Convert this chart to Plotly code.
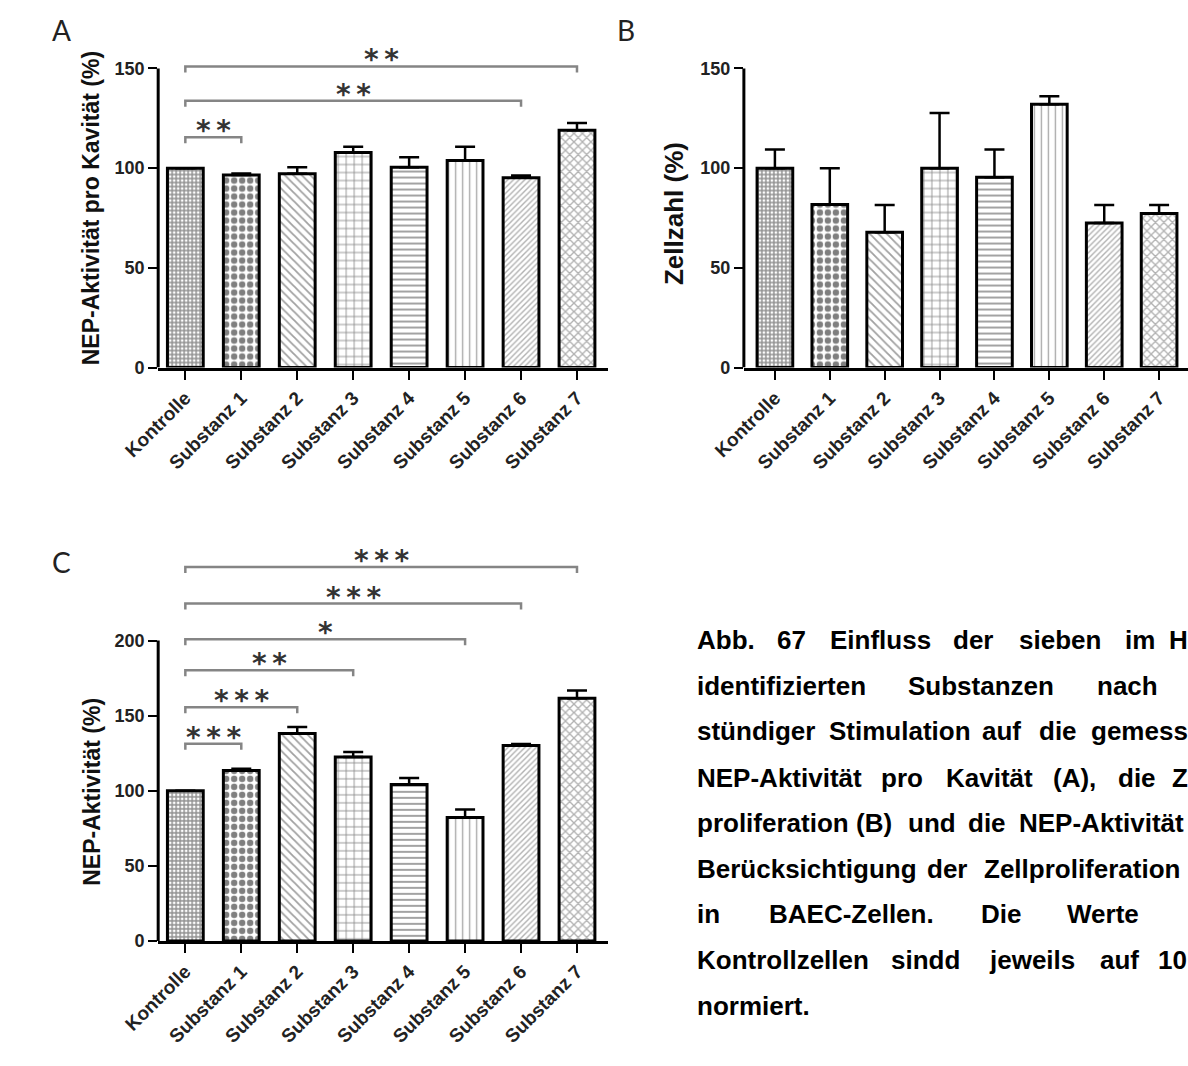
import plotly.graph_objects as go

# ---- data -------------------------------------------------------------
categories = ["Kontrolle", "Substanz 1", "Substanz 2", "Substanz 3",
              "Substanz 4", "Substanz 5", "Substanz 6", "Substanz 7"]

# A: NEP-Aktivität pro Kavität (%)
nep_kavitaet = [100.0, 96.6, 97.2, 107.8, 100.5, 103.8, 95.2, 119.0]
nep_kavitaet_sem = [0.0, 0.7, 3.2, 3.0, 5.0, 7.0, 1.1, 3.6]

# B: Zellzahl (%)
zellzahl = [100.0, 81.8, 67.8, 100.0, 95.5, 132.0, 72.5, 77.2]
zellzahl_sem = [9.3, 18.2, 13.7, 27.7, 13.8, 4.1, 9.0, 4.3]

# C: NEP-Aktivität unter Berücksichtigung der Zellproliferation (%)
nep_normiert = [100.0, 113.5, 138.2, 122.5, 104.2, 82.2, 130.2, 161.6]
nep_normiert_sem = [0.0, 1.2, 4.2, 3.3, 4.4, 5.4, 1.0, 5.2]

# significance vs. Kontrolle: (target index, stars)
sig_a = [(1, "**"), (6, "**"), (7, "**")]
sig_c = [(1, "***"), (2, "***"), (3, "**"), (5, "*"), (6, "***"), (7, "***")]

y_ticks_a = [0, 50, 100, 150]
y_ticks_b = [0, 50, 100, 150]
y_ticks_c = [0, 50, 100, 150, 200]

# ---- styling ----------------------------------------------------------
W, H = 1188, 1066
FONT = "Liberation Sans, Arial, sans-serif"
pos = list(range(len(categories)))

pattern = dict(
    shape=["+", ".", "\\", "+", "-", "|", "/", "x"],
    size=[4, 8, 6, 8, 6, 7, 4, 6],
    solidity=[0.6, 0.5, 0.3, 0.2, 0.3, 0.2, 0.35, 0.4],
    fgcolor=["#222", "#000", "#444", "#111", "#333", "#555", "#666", "#666"],
    bgcolor="white",
    fillmode="overlay",
)


def px_x(p):
    return p / W


def px_y(p):
    return 1 - p / H


fig = go.Figure()


def add_bars(values, sem, xa, ya, width):
    fig.add_trace(go.Bar(
        x=pos, y=values, xaxis=xa, yaxis=ya, width=width,
        marker=dict(color="white", line=dict(color="black", width=3),
                    pattern=pattern),
        error_y=dict(type="data", array=sem, arrayminus=[0] * len(sem),
                     symmetric=False, color="black", thickness=2.5, width=10),
        showlegend=False, hoverinfo="x+y",
    ))


add_bars(nep_kavitaet, nep_kavitaet_sem, "x", "y", 0.64)
add_bars(zellzahl, zellzahl_sem, "x2", "y2", 0.65)
add_bars(nep_normiert, nep_normiert_sem, "x3", "y3", 0.64)

xcommon = dict(
    tickvals=pos, ticktext=categories, tickangle=-45,
    tickfont=dict(family=FONT, size=19, color="#222", weight="bold"),
    ticks="outside", ticklen=9, tickwidth=2, tickcolor="black",
    showline=True, linecolor="black", linewidth=3,
    showgrid=False, zeroline=False, fixedrange=True,
)
ycommon = dict(
    tickfont=dict(family=FONT, size=18, color="#222", weight="bold"),
    ticks="outside", ticklen=9, tickwidth=2, tickcolor="black",
    showline=False, showgrid=False, zeroline=False, fixedrange=True,
)

# pixel layout of the three panels
A_LEFT, A_RIGHT, X0_A, STEP_A = 126, 590, 154, 57.7
B_LEFT, X0_B, STEP_B = 730, 762, 56.6
TOP_AB, BASE_AB = 49, 371
TOP_C, BASE_C = 548, 950

fig.update_layout(
    width=W, height=H,
    margin=dict(l=0, r=0, t=0, b=0),
    paper_bgcolor="white", plot_bgcolor="white",
    xaxis=dict(xcommon, domain=[px_x(A_LEFT), px_x(A_RIGHT)],
               range=[(A_LEFT - X0_A) / STEP_A, (A_RIGHT - X0_A) / STEP_A], anchor="y"),
    yaxis=dict(ycommon, domain=[px_y(BASE_AB), px_y(TOP_AB)], range=[0, 160],
               tickvals=y_ticks_a, anchor="x"),
    xaxis2=dict(xcommon, domain=[px_x(B_LEFT), 1.0],
                range=[(B_LEFT - X0_B) / STEP_B, (W - X0_B) / STEP_B], anchor="y2"),
    yaxis2=dict(ycommon, domain=[px_y(BASE_AB), px_y(TOP_AB)], range=[0, 160],
                tickvals=y_ticks_b, anchor="x2"),
    xaxis3=dict(xcommon, domain=[px_x(A_LEFT), px_x(A_RIGHT)],
                range=[(A_LEFT - X0_A) / STEP_A, (A_RIGHT - X0_A) / STEP_A], anchor="y3"),
    yaxis3=dict(ycommon, domain=[px_y(BASE_C), px_y(TOP_C)], range=[0, 265],
                tickvals=y_ticks_c, anchor="x3"),
)

shapes = []
annotations = []

# left spines stop at the last tick
for xa, ya, top in (("x", "y", 150), ("x2", "y2", 150), ("x3", "y3", 200)):
    shapes.append(dict(type="line", xref=f"{xa} domain", yref=ya,
                       x0=0, x1=0, y0=0, y1=top,
                       line=dict(color="black", width=3)))


def add_brackets(sig, levels, tip, xa, ya):
    for (idx, stars), lvl in zip(sig, levels):
        shapes.append(dict(
            type="path", xref=xa, yref=ya,
            path=f"M 0,{lvl - tip} L 0,{lvl} L {idx},{lvl} L {idx},{lvl - tip}",
            line=dict(color="#858585", width=2.5),
        ))
        annotations.append(dict(
            x=idx / 2, y=lvl, xref=xa, yref=ya,
            text="\u2009".join(stars), showarrow=False,
            yanchor="bottom", yshift=-12,
            font=dict(family="DejaVu Sans", size=28, color="#333", weight="bold"),
        ))


add_brackets(sig_a, [115.5, 133.8, 151.0], 3.0, "x", "y")
add_brackets(sig_c, [131.4, 155.6, 180.2, 200.9, 224.6, 249.0], 4.0, "x3", "y3")

# axis titles
for text, x, y, size in (("NEP-Aktivität pro Kavität (%)", 57, 210, 23),
                         ("Zellzahl (%)", 658, 216, 26),
                         ("NEP-Aktivität (%)", 57, 799, 23)):
    annotations.append(dict(
        x=px_x(x), y=px_y(y), xref="paper", yref="paper", text=text,
        textangle=-90, showarrow=False, xanchor="center", yanchor="middle",
        font=dict(family=FONT, size=size, color="#111", weight="bold"),
    ))

# panel letters
for text, x, y in (("A", 26, 30), ("B", 608, 30), ("C", 26, 567)):
    annotations.append(dict(
        x=px_x(x), y=px_y(y), xref="paper", yref="paper", text=text,
        showarrow=False, xanchor="center", yanchor="middle",
        font=dict(family="Lato, Open Sans, sans-serif", size=28, color="#222"),
    ))

# figure caption (justified block reaching the right edge)
caption_lines = [
    (646, [("Abb.", 681), ("67", 763), ("Einfluss", 818), ("der", 945),
           ("sieben", 1013), ("im", 1122), ("H", 1167)]),
    (692, [("identifizierten", 681), ("Substanzen", 898), ("nach", 1093)]),
    (738, [("stündiger", 681), ("Stimulation", 817), ("auf", 975),
           ("die", 1033), ("gemess", 1087)]),
    (785, [("NEP-Aktivität", 681), ("pro", 870), ("Kavität", 937),
           ("(A),", 1048), ("die", 1115), ("Z", 1170)]),
    (831, [("proliferation", 681), ("(B)", 845), ("und", 898), ("die", 960),
           ("NEP-Aktivität", 1013)]),
    (877, [("Berücksichtigung", 681), ("der", 918), ("Zellproliferation", 977)]),
    (923, [("in", 681), ("BAEC-Zellen.", 755), ("Die", 973), ("Werte", 1062)]),
    (969, [("Kontrollzellen", 681), ("sindd", 881), ("jeweils", 982),
           ("auf", 1096), ("10", 1156)]),
    (1016, [("normiert.", 681)]),
]
for y, words in caption_lines:
    for word, x in words:
        annotations.append(dict(
            x=px_x(x), y=px_y(y), xref="paper", yref="paper", text=word,
            showarrow=False, xanchor="left", yanchor="middle", borderpad=0,
            font=dict(family=FONT, size=26, color="black", weight="bold"),
        ))

fig.update_layout(shapes=shapes, annotations=annotations)
fig.write_html("out.html")
